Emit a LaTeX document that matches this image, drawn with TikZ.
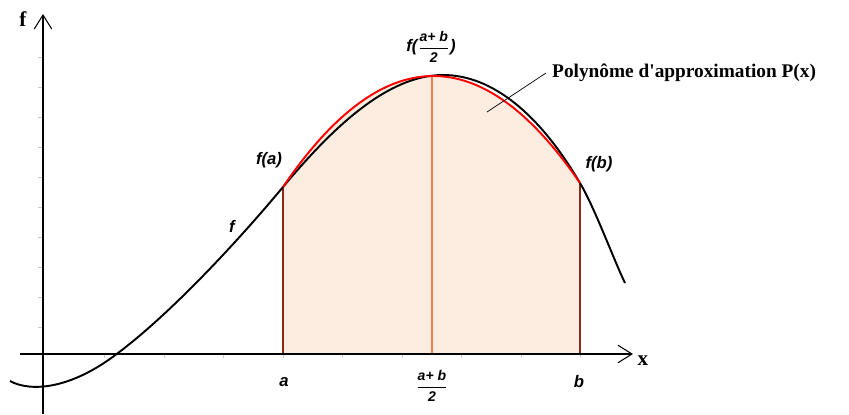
\documentclass[tikz,border=0pt]{standalone}
\usepackage{fontspec}
\setmainfont{Liberation Serif}
\newfontfamily\labelfont{Liberation Sans}
\usetikzlibrary{arrows.meta}
\definecolor{peach}{HTML}{FDEDE1}
\definecolor{brownred}{HTML}{8B2A1A}
\definecolor{midorange}{HTML}{F47A50}
\definecolor{tickgray}{HTML}{C8C8C8}
\newcommand{\halfsum}{$\displaystyle\frac{\mbox{\labelfont\bfseries\itshape\fontsize{8}{9}\selectfont a+ b}}{\mbox{\labelfont\bfseries\itshape\fontsize{8}{9}\selectfont 2}}$}
\tikzset{
  axis/.style={line width=0.8pt, -{Straight Barb[length=8pt, width=10pt, line width=0.6pt]}},
  tickmark/.style={tickgray, line width=0.5pt},
  func/.style={black, line width=1.1pt},
  poly/.style={red, line width=1.1pt},
  area/.style={fill=peach},
  bound/.style={brownred, line width=0.9pt},
  midline/.style={midorange, line width=0.9pt},
  base/.style={red!75!black, line width=0.9pt},
  leader/.style={black, line width=0.4pt},
  ptlabel/.style={font=\labelfont\bfseries\itshape\fontsize{9.5}{11}\selectfont, inner sep=1pt},
  axlabel/.style={font=\bfseries\fontsize{12}{14}\selectfont, inner sep=1pt},
  polylabel/.style={font=\bfseries\fontsize{11}{13}\selectfont, anchor=west}
}
\begin{document}
\begin{tikzpicture}[x=0.02cm, y=-0.02cm]
  \useasboundingbox (0,0) rectangle (849,414);
  \coordinate (a) at (283,354); \coordinate (m) at (432,354); \coordinate (b) at (580,354);
  \coordinate (fa) at (283,187); \coordinate (fm) at (432,76); \coordinate (fb) at (580,183);
  \fill[area] (a) -- (fa) .. controls (382.67,40.33) and (481.67,39) .. (fb) -- (b) -- cycle;
  \draw[bound] (a) -- (fa); \draw[bound] (b) -- (fb);
  \draw[midline] (m) -- (fm);
  \draw[base] (a) -- (b);
  \foreach \y in {57,87,...,327} \draw[tickmark] (38,\y) -- (43,\y);
  \foreach \x in {104.5,164,...,581} \draw[tickmark] (\x,354) -- (\x,358);
  \coordinate (xs) at (20,354); \coordinate (xe) at (633,354);
  \coordinate (ys) at (43,414); \coordinate (ye) at (43,14);
  \draw[axis] (xs) -- (xe);
  \draw[axis] (ys) -- (ye);
  \node[axlabel] (xlab) at (643,361) {x};
  \node[axlabel] (flab) at (23,19) {f};
  \draw[func] (10,381) .. controls (30,392) and (70,390) .. (118,353)
    .. controls (168,315.5) and (233,247) .. (fa)
    .. controls (333,127) and (388,75) .. (443,75)
    .. controls (493,75) and (540,115) .. (fb)
    .. controls (595,208.5) and (613,258) .. (625,283);
  \draw[poly] (fa) .. controls (382.67,40.33) and (481.67,39) .. (fb);
  \node[ptlabel] (labfa) at (269,160) {f(a)};
  \node[ptlabel] (labfb) at (599,164) {f(b)};
  \node[ptlabel] (labfm) at (431,47) {f(\halfsum)};
  \node[ptlabel] (labf) at (232,226) {f};
  \node[ptlabel] (laba) at (284,382) {a};
  \node[ptlabel] (labm) at (432,386) {\halfsum};
  \node[ptlabel] (labb) at (579,382) {b};
  \node[polylabel] (title) at (546,73) {Polynôme d\textquotesingle approximation P(x)};
  \coordinate (ptr) at (487,112);
  \draw[leader] (title.west) -- (ptr);
\end{tikzpicture}
\end{document}
